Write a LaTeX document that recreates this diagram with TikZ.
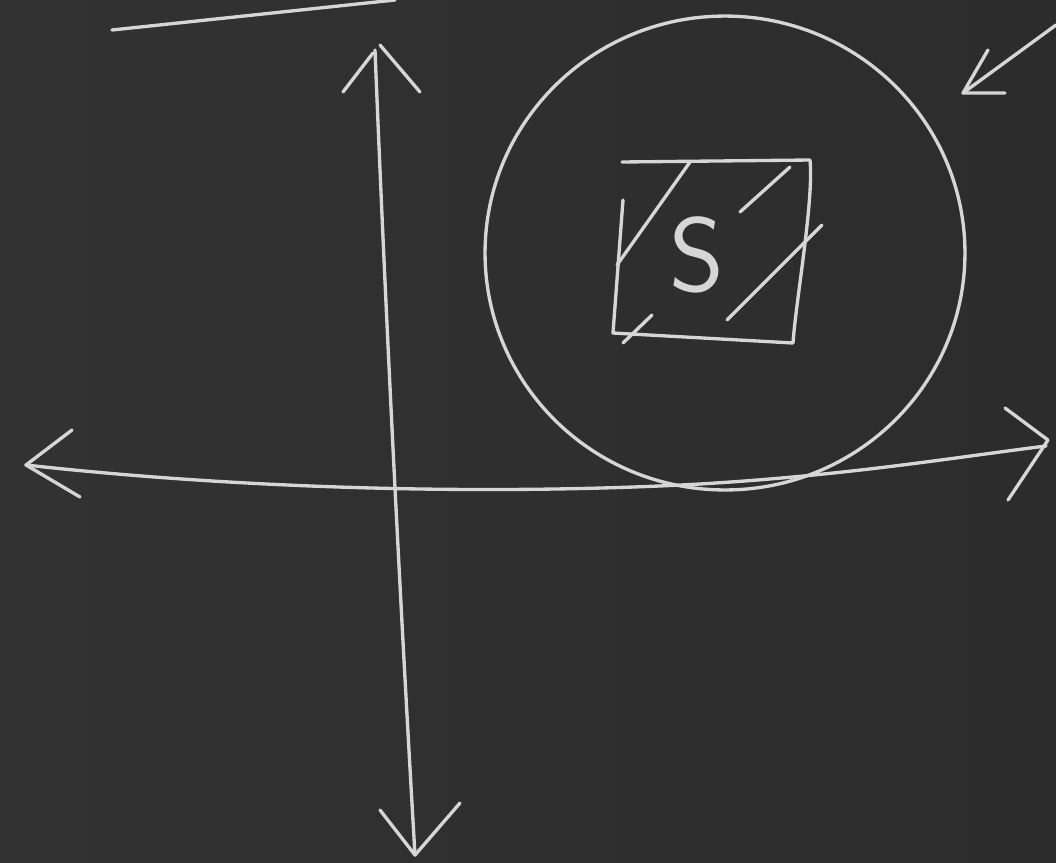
\documentclass[tikz,border=0pt]{standalone}
\usetikzlibrary{shapes.geometric}
\definecolor{board}{HTML}{2C2C2C}
\definecolor{boardlight}{HTML}{323232}
\definecolor{chalk}{HTML}{D6D6D6}
\tikzset{
  chalkline/.style={draw=chalk, line width=1.9pt, line cap=round, line join=round},
  pt/.style={coordinate}
}
\begin{document}
\begin{tikzpicture}[x=0.02cm,y=-0.02cm]
\shade[left color=boardlight, right color=board, shading angle=90] (0,0) rectangle (1056,863);
\useasboundingbox (0,0) rectangle (1056,863);
% coordinates
\coordinate (tl1) at (112,30);
\coordinate (tl2) at (395,0);
\coordinate (vt) at (375,50);
\coordinate (vb) at (415,855);
\coordinate (hl) at (26,465);
\coordinate (hr) at (1046,446);
\coordinate (at1) at (963,93);
\coordinate (at2) at (1056,25);
% top-left line
\draw[chalkline] (tl1) -- (tl2);
% vertical axis
\draw[chalkline] (vt) .. controls (385,300) and (400,600) .. (vb);
\draw[chalkline] (343,92) -- (373,53);
\draw[chalkline] (380,45) -- (420,92);
\draw[chalkline] (380,810) -- (vb) -- (460,803);
% horizontal axis
\draw[chalkline] (hl) .. controls (250,490) and (500,495) .. (700,484) .. controls (850,475) and (950,458) .. (hr);
\draw[chalkline] (72,430) -- (hl) -- (80,497);
\draw[chalkline] (1005,408) -- (1048,440) -- (1008,500);
% circle
\node[chalkline, ellipse, minimum width=9.6cm, minimum height=9.48cm, inner sep=0pt] (orb) at (725,253) {};
% square with S
\node[text=chalk, font=\sffamily\fontsize{60}{60}\selectfont] (s) at (697,255) {S};
\draw[chalkline] (622,162) -- (810,160) .. controls (814,200) and (796,300) .. (793,343) -- (613,333) -- (623,200);
\draw[chalkline] (617,265) -- (690,162);
\draw[chalkline] (740,212) -- (790,167);
\draw[chalkline] (727,320) -- (822,225);
\draw[chalkline] (623,343) -- (652,315);
% top-right arrow
\draw[chalkline] (at2) -- (at1);
\draw[chalkline] (988,50) -- (at1) -- (1005,93);
\end{tikzpicture}
\end{document}
